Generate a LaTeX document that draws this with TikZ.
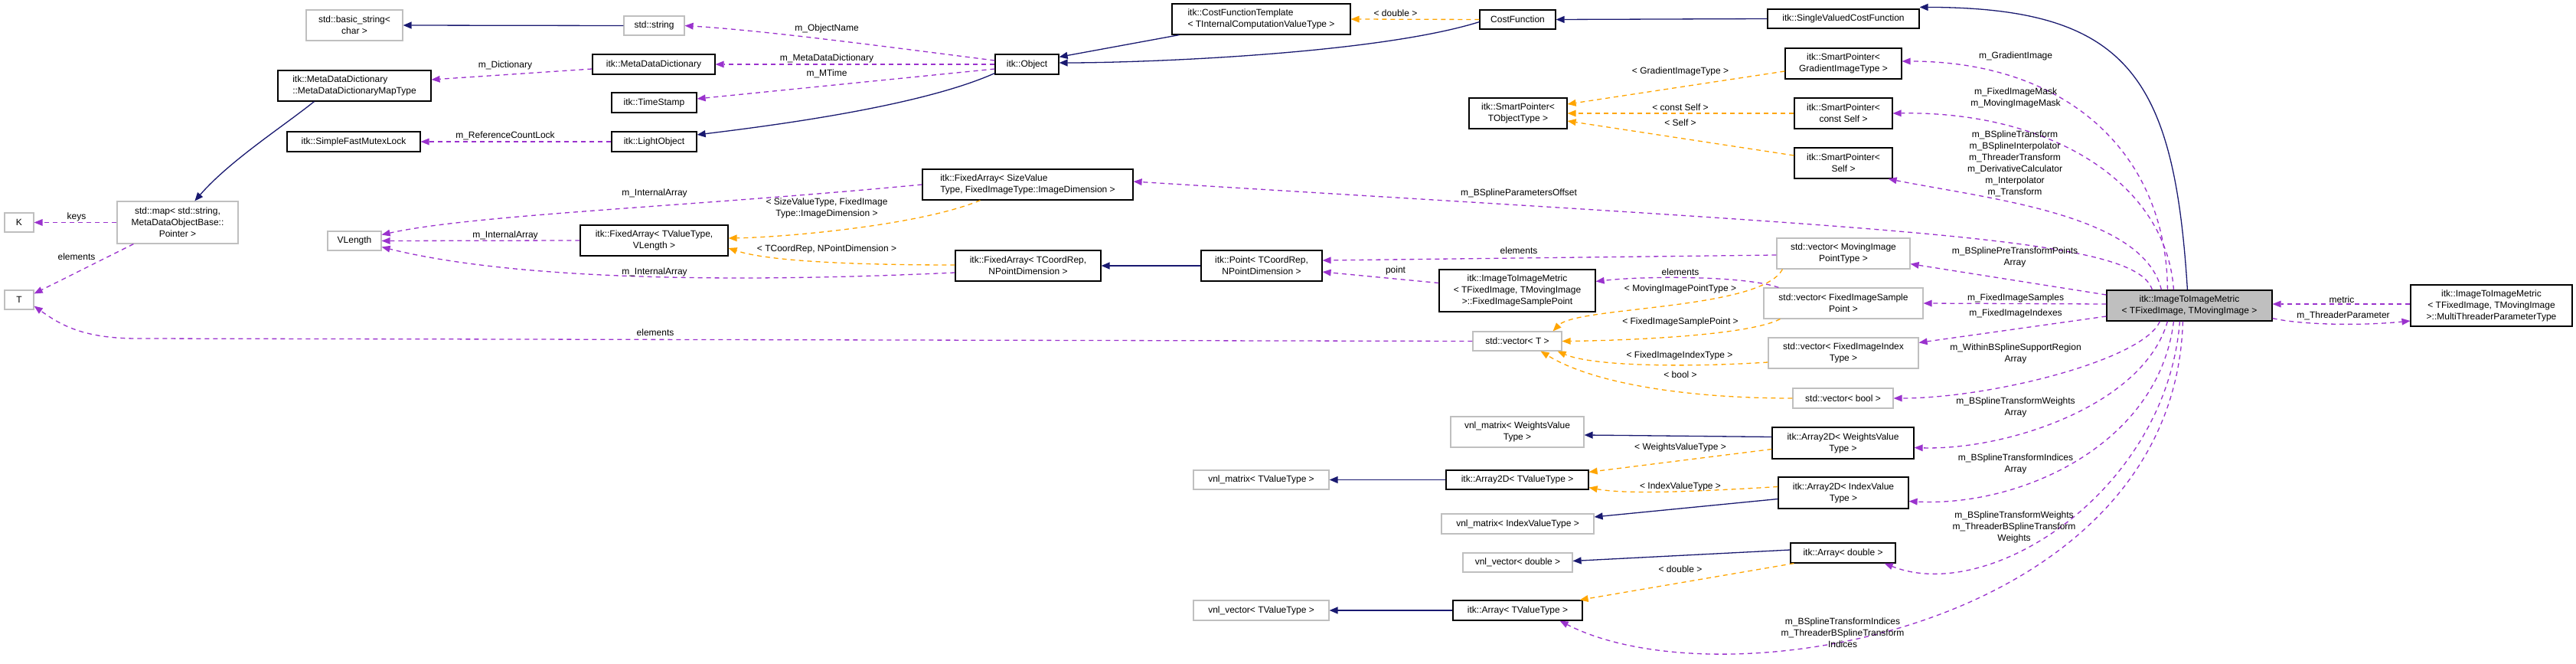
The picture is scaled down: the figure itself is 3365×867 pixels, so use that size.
\documentclass[tikz,border=0pt]{standalone}
\usepackage{fontspec}
\setmainfont{Liberation Sans}
\usetikzlibrary{calc,arrows.meta}
\definecolor{inhc}{HTML}{191970}
\definecolor{usec}{HTML}{9A32CD}
\definecolor{tplc}{HTML}{FFA500}
\definecolor{grb}{HTML}{BFBFBF}
\begin{document}
\begin{tikzpicture}[x=1pt,y=-1pt,
 every node/.style={font=\fontsize{12}{15}\selectfont,inner sep=0pt,align=center},
 bk/.style={draw=black,line width=1.2pt,fill=white},
 gr/.style={draw=grb,line width=1.2pt,fill=white},
 lbl/.style={align=center},
 inh/.style={draw=inhc,line width=1.3pt,-{Triangle[length=11pt,width=9pt,fill=inhc]}},
 use/.style={draw=usec,line width=1.3pt,dash pattern=on 6pt off 5pt,-{Triangle[length=11pt,width=9pt,fill=usec,line width=0pt]}},
 tpl/.style={draw=tplc,line width=1.3pt,dash pattern=on 6pt off 5pt,-{Triangle[length=11pt,width=9pt,fill=tplc,line width=0pt]}}]
\useasboundingbox (0,0) rectangle (3365,867);
\fill[white] (0,0) rectangle (3365,867);
% nodes
\node[gr,minimum width=126,minimum height=40] (bs) at (463,33) {std::basic\_string\textless\\char \textgreater};
\node[gr,minimum width=79,minimum height=25] (str) at (854.5,33.5) {std::string};
\node[bk,minimum width=200,minimum height=40,align=left] (mt) at (463,112) {itk::MetaDataDictionary\\::MetaDataDictionaryMapType};
\node[bk,minimum width=160,minimum height=26] (mdd) at (854,84) {itk::MetaDataDictionary};
\node[bk,minimum width=111,minimum height=26] (ts) at (854.5,134) {itk::TimeStamp};
\node[bk,minimum width=174,minimum height=26] (sfml) at (462,185) {itk::SimpleFastMutexLock};
\node[bk,minimum width=111,minimum height=26] (lo) at (854.5,185) {itk::LightObject};
\node[gr,minimum width=158,minimum height=55] (map) at (232,290.5) {std::map\textless{} std::string,\\ MetaDataObjectBase::\\Pointer \textgreater};
\node[gr,minimum width=38,minimum height=25] (K) at (25,290.5) {K};
\node[gr,minimum width=38,minimum height=25] (T) at (25,391.5) {T};
\node[gr,minimum width=70,minimum height=25] (vl) at (463,314.5) {VLength};
\node[bk,minimum width=193,minimum height=40] (favl) at (854.5,314) {itk::FixedArray\textless{} TValueType,\\ VLength \textgreater};
\node[bk,minimum width=83,minimum height=26] (obj) at (1341.5,84) {itk::Object};
\node[bk,minimum width=233,minimum height=40,align=left] (cft) at (1647.5,25) {itk::CostFunctionTemplate\\\textless{} TInternalComputationValueType \textgreater};
\node[bk,minimum width=275,minimum height=40,align=left] (fas) at (1342.5,241) {itk::FixedArray\textless{} SizeValue\\Type, FixedImageType::ImageDimension \textgreater};
\node[bk,minimum width=190,minimum height=40] (fa2) at (1343,347) {itk::FixedArray\textless{} TCoordRep,\\ NPointDimension \textgreater};
\node[bk,minimum width=158,minimum height=40] (pt) at (1648,347) {itk::Point\textless{} TCoordRep,\\ NPointDimension \textgreater};
\node[bk,minimum width=204,minimum height=55] (fisp) at (1982,379.5) {itk::ImageToImageMetric\\\textless{} TFixedImage, TMovingImage\\ \textgreater::FixedImageSamplePoint};
\node[gr,minimum width=116,minimum height=25] (vt) at (1982,445.5) {std::vector\textless{} T \textgreater};
\node[bk,minimum width=99,minimum height=25] (cf) at (1982.5,25.5) {CostFunction};
\node[bk,minimum width=198,minimum height=25] (svcf) at (2408,24.5) {itk::SingleValuedCostFunction};
\node[bk,minimum width=152,minimum height=40] (spg) at (2408,83) {itk::SmartPointer\textless\\ GradientImageType \textgreater};
\node[bk,minimum width=128,minimum height=40] (spt) at (1983,148) {itk::SmartPointer\textless\\ TObjectType \textgreater};
\node[bk,minimum width=128,minimum height=40] (spcs) at (2408,148) {itk::SmartPointer\textless\\ const Self \textgreater};
\node[bk,minimum width=128,minimum height=40] (sps) at (2408,213) {itk::SmartPointer\textless\\ Self \textgreater};
\node[gr,minimum width=174,minimum height=40] (vmip) at (2408,331) {std::vector\textless{} MovingImage\\PointType \textgreater};
\node[gr,minimum width=208,minimum height=40] (vfisp) at (2408,396) {std::vector\textless{} FixedImageSample\\Point \textgreater};
\node[bk,fill=grb,minimum width=216,minimum height=40] (main) at (2860,399) {itk::ImageToImageMetric\\\textless{} TFixedImage, TMovingImage \textgreater};
\node[bk,minimum width=211,minimum height=54] (mtp) at (3254.5,399) {itk::ImageToImageMetric\\\textless{} TFixedImage, TMovingImage\\ \textgreater::MultiThreaderParameterType};
\node[gr,minimum width=174,minimum height=40] (vwm) at (1982,564) {vnl\_matrix\textless{} WeightsValue\\Type \textgreater};
\node[gr,minimum width=177,minimum height=25] (vtm) at (1647.5,626.5) {vnl\_matrix\textless{} TValueType \textgreater};
\node[bk,minimum width=186,minimum height=25] (a2tv) at (1982,626.5) {itk::Array2D\textless{} TValueType \textgreater};
\node[gr,minimum width=199,minimum height=26] (vim) at (1982.5,684) {vnl\_matrix\textless{} IndexValueType \textgreater};
\node[gr,minimum width=143,minimum height=25] (vvd) at (1982.5,734.5) {vnl\_vector\textless{} double \textgreater};
\node[gr,minimum width=177,minimum height=26] (vvt) at (1647.5,797) {vnl\_vector\textless{} TValueType \textgreater};
\node[bk,minimum width=169,minimum height=26] (atv) at (1982.5,797) {itk::Array\textless{} TValueType \textgreater};
\node[gr,minimum width=196,minimum height=40] (vfii) at (2408,461) {std::vector\textless{} FixedImageIndex\\Type \textgreater};
\node[gr,minimum width=131,minimum height=26] (vb) at (2407.5,520) {std::vector\textless{} bool \textgreater};
\node[bk,minimum width=185,minimum height=41] (a2w) at (2407.5,578.5) {itk::Array2D\textless{} WeightsValue\\Type \textgreater};
\node[bk,minimum width=170,minimum height=41] (a2i) at (2408,643.5) {itk::Array2D\textless{} IndexValue\\Type \textgreater};
\node[bk,minimum width=137,minimum height=26] (ad) at (2407.5,722) {itk::Array\textless{} double \textgreater};
% inheritance
\draw[inh] (str.west) -- (bs.east);
\draw[inh] ($(mt.south west)+(48,0)$) .. controls (370,165) and (300,210) .. ($(map.north west)+(102,0)$);
\draw[inh] ($(obj.south west)+(0,-2)$) .. controls (1200,140) and (1000,165) .. ($(lo.east)+(0,-9)$);
\draw[inh] ($(cft.south west)+(10,0)$) -- ($(obj.north east)+(0,4)$);
\draw[inh] ($(cf.south west)+(0,-10)$) .. controls (1800,70) and (1500,82) .. ($(obj.east)+(0,-2)$);
\draw[inh] (svcf.west) -- (cf.east);
\draw[inh] ($(main.north west)+(106,0)$) .. controls (2840,100) and (2780,10) .. ($(svcf.north east)+(0,-2)$);
\draw[inh] (pt.west) -- (fa2.east);
\draw[inh] (a2tv.west) -- (vtm.east);
\draw[inh] ($(a2w.west)+(0,-8)$) -- ($(vwm.east)+(0,4)$);
\draw[inh] ($(a2i.west)+(0,8)$) -- ($(vim.east)+(0,-9)$);
\draw[inh] ($(ad.west)+(0,-4)$) -- ($(vvd.east)+(0,-2)$);
\draw[inh] (atv.west) -- (vvt.east);
% usage
\draw[use] ($(obj.west)+(0,-5)$) .. controls (1150,60) and (1000,40) .. (str.east);
\draw[use] (obj.west) -- (mdd.east);
\draw[use] ($(obj.west)+(0,6)$) .. controls (1150,105) and (1000,120) .. ($(ts.east)+(0,-5)$);
\draw[use] ($(mdd.west)+(0,6)$) -- ($(mt.east)+(0,-8)$);
\draw[use] (lo.west) -- (sfml.east);
\draw[use] (map.west) -- (K.east);
\draw[use] ($(map.south west)+(22,0)$) -- ($(T.north east)+(0,5)$);
\draw[use] (fas.west) .. controls (900,270) and (620,280) .. ($(vl.east)+(0,-8)$);
\draw[use] (favl.west) -- (vl.east);
\draw[use] ($(fa2.west)+(0,9)$) .. controls (900,372) and (650,360) .. ($(vl.east)+(0,8)$);
\draw[use] (vt.west) -- (180,442) .. controls (110,442) and (80,425) .. ($(T.south east)+(0,-5)$);
\draw[use] ($(vmip.west)+(0,2)$) -- ($(pt.east)+(0,-7)$);
\draw[use] ($(fisp.west)+(0,-10)$) -- ($(pt.east)+(0,8)$);
\draw[use] ($(vfisp.north west)+(20,0)$) .. controls (2280,360) and (2150,360) .. ($(fisp.east)+(0,-12)$);
\draw[use] ($(main.north west)+(80,0)$) .. controls (2830,200) and (2700,80) .. ($(spg.east)+(0,-3)$);
\draw[use] ($(main.north west)+(88,0)$) .. controls (2830,240) and (2680,145) .. (spcs.east);
\draw[use] ($(main.north west)+(72,0)$) .. controls (2800,280) and (2600,260) .. ($(sps.south east)+(-6,0)$);
\draw[use] ($(main.north west)+(60,0)$) .. controls (2790,310) and (2500,300) .. ($(fas.east)+(0,-4)$) ;
\draw[use] ($(main.west)+(0,-14)$) -- ($(vmip.south east)+(0,-7)$);
\draw[use] ($(main.west)+(0,-2)$) -- (vfisp.east);
\draw[use] ($(main.west)+(0,14)$) -- ($(vfii.north east)+(0,7)$);
\draw[use] ($(main.south west)+(70,0)$) .. controls (2800,470) and (2600,520) .. (vb.east);
\draw[use] ($(main.south west)+(80,0)$) .. controls (2800,530) and (2620,588) .. ($(a2w.east)+(0,6)$);
\draw[use] ($(main.south west)+(88,0)$) .. controls (2820,580) and (2640,662) .. ($(a2i.east)+(0,11)$);
\draw[use] ($(main.south west)+(96,0)$) .. controls (2830,640) and (2600,790) .. ($(ad.south east)+(-15,0)$);
\draw[use] ($(main.south west)+(100,0)$) .. controls (2840,820) and (2250,920) .. ($(atv.south east)+(-30,0)$);
\draw[use] ($(mtp.west)+(0,-2)$) -- ($(main.east)+(0,-2)$);
\draw[use] ($(main.south east)+(0,-4)$) .. controls (3010,425) and (3090,425) .. ($(mtp.west)+(0,20)$);
% template
\draw[tpl] (cf.west) -- (cft.east);
\draw[tpl] ($(spg.west)+(0,10)$) -- ($(spt.east)+(0,-12)$);
\draw[tpl] (spcs.west) -- (spt.east);
\draw[tpl] ($(sps.west)+(0,-10)$) -- ($(spt.east)+(0,10)$);
\draw[tpl] ($(fas.south west)+(76,0)$) .. controls (1200,295) and (1020,310) .. ($(favl.east)+(0,-3)$);
\draw[tpl] ($(fa2.west)+(0,-1)$) .. controls (1100,346) and (1000,340) .. ($(favl.east)+(0,10)$);
\draw[tpl] ($(vmip.south west)+(8,0)$) .. controls (2300,405) and (2060,400) .. ($(vt.north east)+(-12,0)$);
\draw[tpl] ($(vfisp.south west)+(22,0)$) .. controls (2280,440) and (2100,445) .. (vt.east);
\draw[tpl] ($(vfii.west)+(0,12)$) .. controls (2200,480) and (2080,478) .. ($(vt.south east)+(-6,0)$);
\draw[tpl] (vb.west) .. controls (2200,520) and (2080,500) .. ($(vt.south east)+(-28,0)$);
\draw[tpl] ($(a2w.west)+(0,8)$) -- ($(a2tv.north east)+(0,3)$);
\draw[tpl] ($(a2i.west)+(0,-8)$) .. controls (2200,643) and (2120,645) .. ($(a2tv.south east)+(0,-3)$);
\draw[tpl] ($(ad.south west)+(5,0)$) -- ($(atv.north east)+(-4,0)$);
% labels
\node[lbl] (l1) at (660,85) {m\_Dictionary};
\node[lbl] (l2) at (660,177) {m\_ReferenceCountLock};
\node[lbl] (l3) at (100,283) {keys};
\node[lbl] (l4) at (100,335) {elements};
\node[lbl] (l5) at (855,252) {m\_InternalArray};
\node[lbl] (l6) at (660,307) {m\_InternalArray};
\node[lbl] (l7) at (855,355) {m\_InternalArray};
\node[lbl] (l8) at (856,434) {elements};
\node[lbl] (l9) at (1080,37) {m\_ObjectName};
\node[lbl] (l10) at (1080,76) {m\_MetaDataDictionary};
\node[lbl] (l11) at (1080,96) {m\_MTime};
\node[lbl] (l12) at (1823,17) {\textless{} double \textgreater};
\node[lbl] (l13) at (1080,272) {\textless{} SizeValueType, FixedImage\\Type::ImageDimension \textgreater};
\node[lbl] (l14) at (1080,325) {\textless{} TCoordRep, NPointDimension \textgreater};
\node[lbl] (l15) at (1823,353) {point};
\node[lbl] (l16) at (2633,73) {m\_GradientImage};
\node[lbl] (l17) at (2195,93) {\textless{} GradientImageType \textgreater};
\node[lbl] (l18) at (2633,128) {m\_FixedImageMask\\m\_MovingImageMask};
\node[lbl] (l19) at (2195,140) {\textless{} const Self \textgreater};
\node[lbl] (l20) at (2195,160) {\textless{} Self \textgreater};
\node[lbl] (l21) at (2632,214) {m\_BSplineTransform\\m\_BSplineInterpolator\\m\_ThreaderTransform\\m\_DerivativeCalculator\\m\_Interpolator\\m\_Transform};
\node[lbl] (l22) at (1984,252) {m\_BSplineParametersOffset};
\node[lbl] (l23) at (1984,327) {elements};
\node[lbl] (l24) at (2195,355) {elements};
\node[lbl] (l25) at (2195,377) {\textless{} MovingImagePointType \textgreater};
\node[lbl] (l26) at (2632,336) {m\_BSplinePreTransformPoints\\Array};
\node[lbl] (l27) at (2633,389) {m\_FixedImageSamples};
\node[lbl] (l28) at (2633,409) {m\_FixedImageIndexes};
\node[lbl] (l29) at (2195,420) {\textless{} FixedImageSamplePoint \textgreater};
\node[lbl] (l30) at (3059,391) {metric};
\node[lbl] (l31) at (3061,412) {m\_ThreaderParameter};
\node[lbl] (l32) at (2194,464) {\textless{} FixedImageIndexType \textgreater};
\node[lbl] (l33) at (2195,489) {\textless{} bool \textgreater};
\node[lbl] (l34) at (2195,584) {\textless{} WeightsValueType \textgreater};
\node[lbl] (l35) at (2195,635) {\textless{} IndexValueType \textgreater};
\node[lbl] (l36) at (2195,743) {\textless{} double \textgreater};
\node[lbl] (l37) at (2633,462) {m\_WithinBSplineSupportRegion\\Array};
\node[lbl] (l38) at (2633,532) {m\_BSplineTransformWeights\\Array};
\node[lbl] (l39) at (2633,606) {m\_BSplineTransformIndices\\Array};
\node[lbl] (l40) at (2631,688) {m\_BSplineTransformWeights\\m\_ThreaderBSplineTransform\\Weights};
\node[lbl] (l41) at (2407,826) {m\_BSplineTransformIndices\\m\_ThreaderBSplineTransform\\Indices};
\end{tikzpicture}
\end{document}
